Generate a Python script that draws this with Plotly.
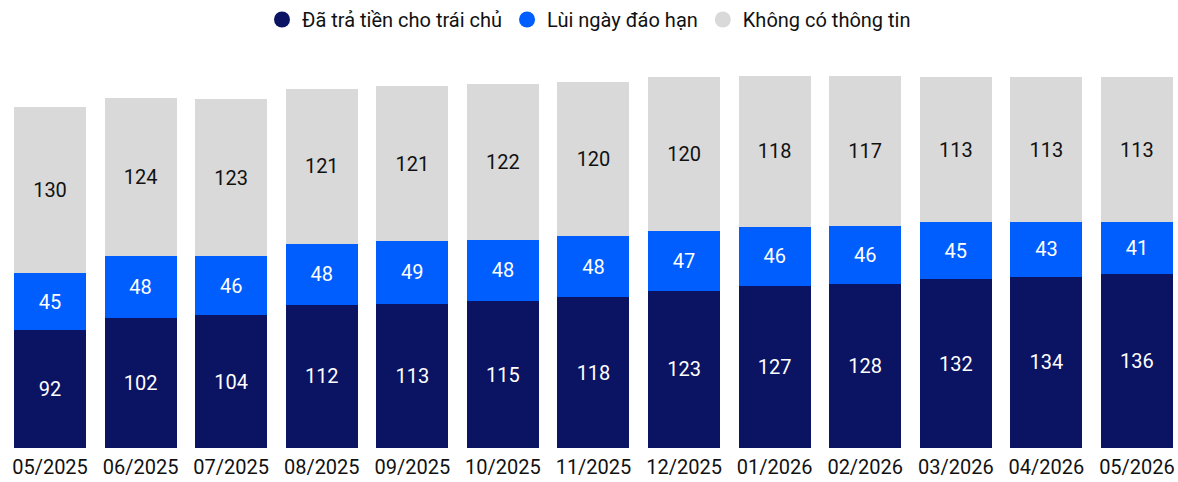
import plotly.graph_objects as go

categories = ["05/2025", "06/2025", "07/2025", "08/2025", "09/2025", "10/2025", "11/2025",
              "12/2025", "01/2026", "02/2026", "03/2026", "04/2026", "05/2026"]
paid = [92, 102, 104, 112, 113, 115, 118, 123, 127, 128, 132, 134, 136]
extended = [45, 48, 46, 48, 49, 48, 48, 47, 46, 46, 45, 43, 41]
no_info = [130, 124, 123, 121, 121, 122, 120, 120, 118, 117, 113, 113, 113]

series = [
    ("Đã trả tiền cho trái chủ", paid, "#0b1363", "white"),
    ("Lùi ngày đáo hạn", extended, "#005eff", "white"),
    ("Không có thông tin", no_info, "#d9d9d9", "#111111"),
]

FONT = "Roboto, Arial, sans-serif"
fig = go.Figure()
for name, vals, color, tcolor in series:
    fig.add_trace(go.Bar(
        x=categories, y=vals, name=name, marker=dict(color=color, line=dict(width=0)),
        text=vals, textposition="inside", insidetextanchor="middle", textangle=0,
        textfont=dict(color=tcolor, size=20, family=FONT),
        constraintext="none", showlegend=False, hoverinfo="skip",
    ))
    fig.add_trace(go.Scatter(
        x=[None], y=[None], mode="markers", name=name,
        marker=dict(color=color, size=19, symbol="circle"), showlegend=True,
    ))

fig.update_layout(
    barmode="stack",
    bargap=0.205,
    width=1178, height=482,
    margin=dict(l=0, r=0, t=45, b=34, pad=0),
    paper_bgcolor="white", plot_bgcolor="white",
    font=dict(family=FONT, size=20, color="#111111"),
    uniformtext=dict(minsize=20, mode="show"),
    legend=dict(orientation="h", x=0.5, xanchor="center", y=1.0, yanchor="top",
                yref="container", traceorder="normal",
                font=dict(size=20, family=FONT, color="#111111"),
                itemwidth=30, tracegroupgap=0, bgcolor="rgba(0,0,0,0)"),
    xaxis=dict(type="category", range=[-0.552, 12.453], showgrid=False, showline=False,
               ticks="", ticklabelstandoff=5,
               tickfont=dict(size=20, family=FONT, color="#111111"), fixedrange=True),
    yaxis=dict(range=[0, 315.3], visible=False, showgrid=False, fixedrange=True),
)

fig.write_html("out.html", config={"displayModeBar": False},
               post_script="document.body.style.margin='0';document.body.style.overflow='hidden';")
